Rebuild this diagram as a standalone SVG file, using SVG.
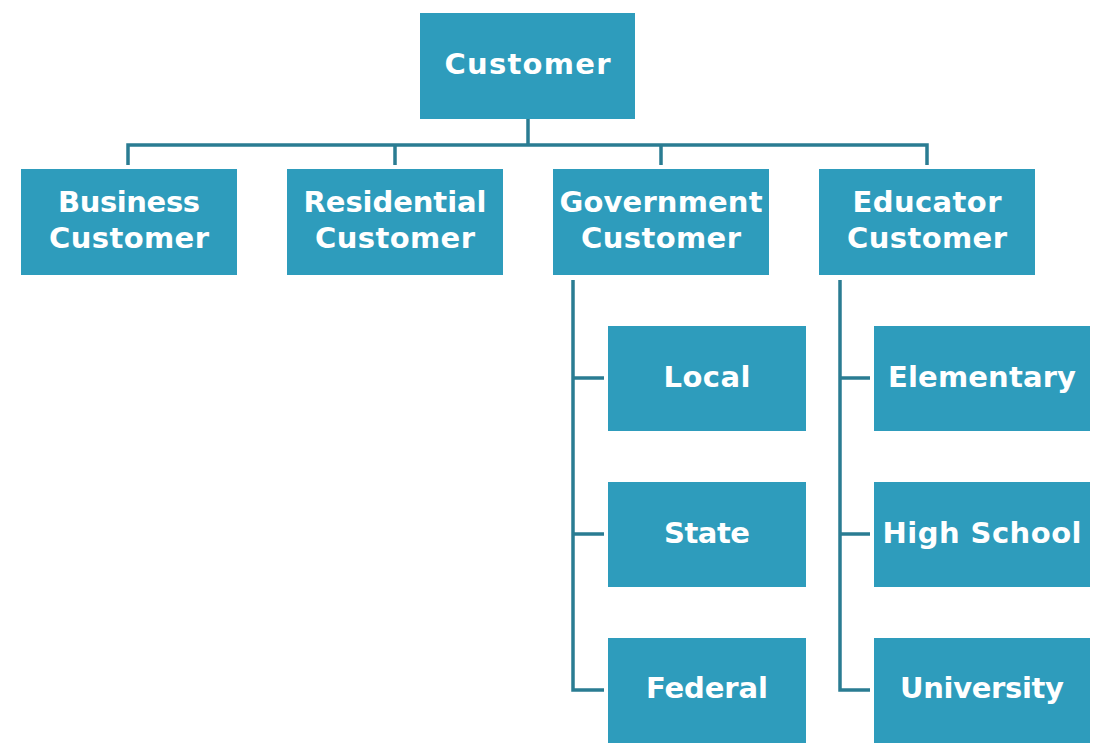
<svg xmlns="http://www.w3.org/2000/svg" width="1116" height="753" viewBox="0 0 1116 753">
<style>
.box{fill:#2e9cbc}
.lbl{font-family:"DejaVu Sans","Open Sans",sans-serif;font-weight:700;font-size:29px;fill:#ffffff;text-anchor:middle}
.conn{fill:none;stroke:#2a7c92;stroke-width:3.5;stroke-linejoin:miter}
</style>
<rect width="1116" height="753" fill="#ffffff"/>
<g id="connectors">
<path class="conn" d="M528 119V145M128 165V145H927V165M395 145V165M661 145V165"/>
<path class="conn" d="M573 280V690H604M573 378H604M573 534H604"/>
<path class="conn" d="M840 280V690H870M840 378H870M840 534H870"/>
</g>
<g id="customer"><rect class="box" x="420" y="13" width="215" height="106"/><text class="lbl" x="527.5" y="74" textLength="166" lengthAdjust="spacing">Customer</text></g>
<g id="business"><rect class="box" x="21" y="169" width="216" height="106"/><text class="lbl" x="129" y="212" textLength="142" lengthAdjust="spacing">Business</text><text class="lbl" x="129" y="248" textLength="160" lengthAdjust="spacing">Customer</text></g>
<g id="residential"><rect class="box" x="287" y="169" width="216" height="106"/><text class="lbl" x="395" y="212" textLength="183" lengthAdjust="spacing">Residential</text><text class="lbl" x="395" y="248" textLength="160" lengthAdjust="spacing">Customer</text></g>
<g id="government"><rect class="box" x="553" y="169" width="216" height="106"/><text class="lbl" x="661" y="212" textLength="203" lengthAdjust="spacing">Government</text><text class="lbl" x="661" y="248" textLength="160" lengthAdjust="spacing">Customer</text></g>
<g id="educator"><rect class="box" x="819" y="169" width="216" height="106"/><text class="lbl" x="927" y="212" textLength="149" lengthAdjust="spacing">Educator</text><text class="lbl" x="927" y="248" textLength="160" lengthAdjust="spacing">Customer</text></g>
<g id="local"><rect class="box" x="608" y="326" width="198" height="105"/><text class="lbl" x="707" y="387" textLength="87" lengthAdjust="spacing">Local</text></g>
<g id="state"><rect class="box" x="608" y="482" width="198" height="105"/><text class="lbl" x="707" y="543" textLength="86" lengthAdjust="spacing">State</text></g>
<g id="federal"><rect class="box" x="608" y="638" width="198" height="105"/><text class="lbl" x="707" y="698" textLength="122" lengthAdjust="spacing">Federal</text></g>
<g id="elementary"><rect class="box" x="874" y="326" width="216" height="105"/><text class="lbl" x="982" y="387" textLength="188" lengthAdjust="spacing">Elementary</text></g>
<g id="highschool"><rect class="box" x="874" y="482" width="216" height="105"/><text class="lbl" x="982" y="543" textLength="199" lengthAdjust="spacing">High School</text></g>
<g id="university"><rect class="box" x="874" y="638" width="216" height="105"/><text class="lbl" x="982" y="698" textLength="164" lengthAdjust="spacing">University</text></g>
</svg>
